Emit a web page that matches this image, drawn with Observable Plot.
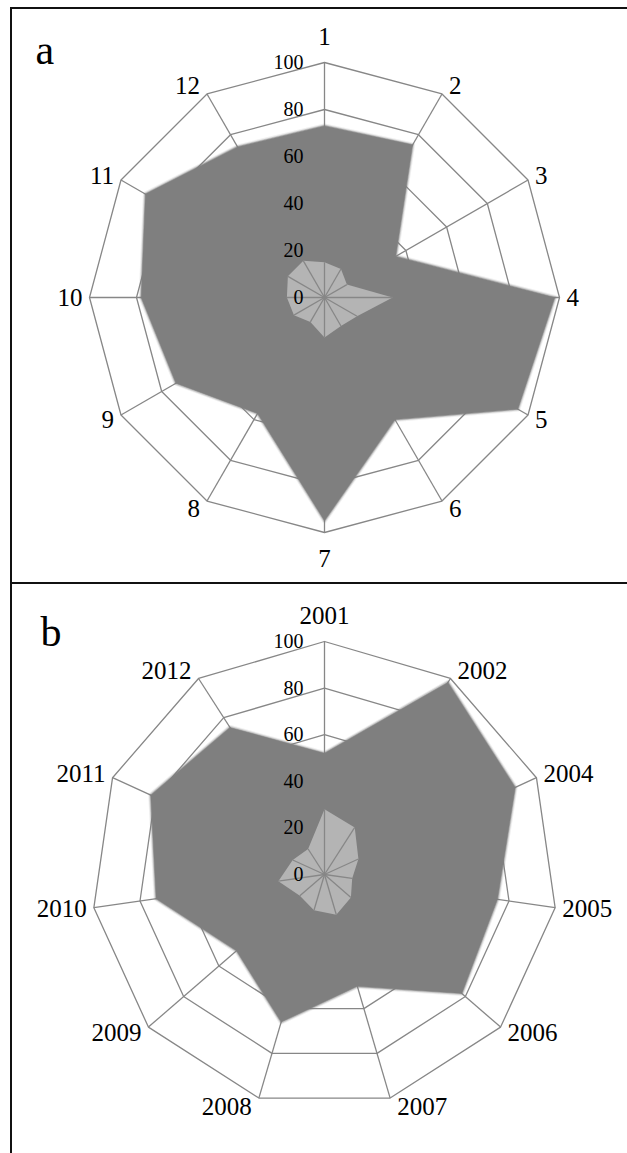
<!DOCTYPE html>
<html>
<head>
<meta charset="utf-8">
<script src="https://cdn.jsdelivr.net/npm/d3@7"></script>
<script src="https://cdn.jsdelivr.net/npm/@observablehq/plot@0.6"></script>
<style>
  html, body { margin: 0; padding: 0; background: #fff; }
  #wrap { position: relative; width: 627px; height: 1153px; overflow: hidden; background: #fff; }
  .panel { position: absolute; left: 0; width: 627px; }
  .rule { position: absolute; background: #111; }
</style>
</head>
<body>
<div id="wrap">
  <div id="pa" class="panel" style="top:0px"></div>
  <div id="pb" class="panel" style="top:583px"></div>
  <div class="rule" style="left:10px;top:7px;width:617px;height:2px"></div>
  <div class="rule" style="left:10px;top:7px;width:2px;height:1146px"></div>
  <div class="rule" style="left:10px;top:582px;width:617px;height:2px"></div>
</div>
<script>
// ---- data ----
const ticks = [0, 20, 40, 60, 80, 100];

const catsA = ["1", "2", "3", "4", "5", "6", "7", "8", "9", "10", "11", "12"];
const darkA = [73, 75, 35, 98, 95, 60, 95, 57, 73, 78, 88, 74];
const lightA = [15, 14, 11, 29, 16, 14, 17, 12, 15, 16, 18, 18];

const catsB = ["2001", "2002", "2004", "2005", "2006", "2007", "2008", "2009", "2010", "2011", "2012"];
const darkB = [52, 98, 90, 75, 78, 50, 66, 50, 73, 82, 75];
const lightB = [28, 24, 16, 12, 15, 18, 16, 14, 20, 15, 13];

const GRID = "#878787";
const DARK = "#7f7f7f";
const LIGHT = "#b4b4b4";
const FONT = "'Liberation Serif', 'Times New Roman', serif";

function radar(el, label, cats, dark, light, cfg) {
  const n = cats.length;
  const R = cfg.R;
  const k = R / 100; // pixels per data unit
  const ang = i => 2 * Math.PI * i / n;
  const pt = (i, v) => ({x: v * Math.sin(ang(i)), y: v * Math.cos(ang(i))});
  const rings = ticks.filter(t => t > 0).flatMap(t => cats.map((c, i) => ({ring: t, ...pt(i, t)})));
  const spokes = cats.map((c, i) => {
    const s = Math.sin(ang(i)), co = Math.cos(ang(i));
    const side = Math.abs(s) < 0.05 ? 0 : Math.sign(s);
    const dxp = side * 7;
    const dyp = side === 0 ? -26 * Math.sign(co) : -9 * co;
    return {
      cat: c, ...pt(i, 100),
      anchor: side === 0 ? "middle" : side > 0 ? "start" : "end",
      lx: 100 * s + dxp / k,
      ly: 100 * co - dyp / k
    };
  });
  const darkPts = dark.map((v, i) => pt(i, v));
  const lightPts = light.map((v, i) => pt(i, v));

  const catText = anchor => Plot.text(spokes.filter(d => d.anchor === anchor), {
    x: "lx", y: "ly", text: "cat", textAnchor: anchor, lineAnchor: "middle", fontSize: 25, fill: "#000"
  });

  // soft edge: the dark series drawn as a fill plus fading rounded outlines
  const soft = [
    {w: 5, o: 0.12},
    {w: 3, o: 0.3},
    {w: 1.2, o: 0.6}
  ];

  const chart = Plot.plot({
    width: 627,
    height: cfg.height,
    margin: 0,
    style: {fontFamily: FONT, background: "transparent", color: "#000"},
    x: {domain: [-100, 100], range: [cfg.cx - R, cfg.cx + R], axis: null},
    y: {domain: [-100, 100], range: [cfg.cy + R, cfg.cy - R], axis: null},
    marks: [
      Plot.line(rings, {x: "x", y: "y", z: "ring", curve: "linear-closed", stroke: GRID, strokeWidth: 1.3}),
      Plot.link(spokes, {x1: () => 0, y1: () => 0, x2: "x", y2: "y", stroke: GRID, strokeWidth: 1.3}),
      ...soft.map(s => Plot.line(darkPts, {x: "x", y: "y", curve: "linear-closed", fill: "none", stroke: DARK, strokeWidth: s.w, strokeOpacity: s.o, strokeLinejoin: "round"})),
      Plot.line(darkPts, {x: "x", y: "y", curve: "linear-closed", fill: DARK}),
      Plot.line(lightPts, {x: "x", y: "y", curve: "linear-closed", fill: LIGHT}),
      Plot.link(lightPts, {x1: () => 0, y1: () => 0, x2: "x", y2: "y", stroke: GRID, strokeWidth: 1.3}),
      Plot.text(ticks, {x: () => 0, y: d => d, text: d => String(d), textAnchor: "end", lineAnchor: "middle", dx: -21, fontSize: 20, fill: "#000"}),
      catText("middle"),
      catText("start"),
      catText("end"),
      Plot.text([label], {frameAnchor: "top-left", text: d => d, dx: cfg.lx, dy: cfg.ly, lineAnchor: "bottom", textAnchor: "start", fontSize: 42, fill: "#000"})
    ]
  });
  document.getElementById(el).appendChild(chart);
}

radar("pa", "a", catsA, darkA, lightA, {height: 583, cx: 324, cy: 297, R: 235, lx: 35, ly: 63});
radar("pb", "b", catsB, darkB, lightB, {height: 570, cx: 324, cy: 291, R: 233, lx: 40, ly: 62});
</script>
</body>
</html>
